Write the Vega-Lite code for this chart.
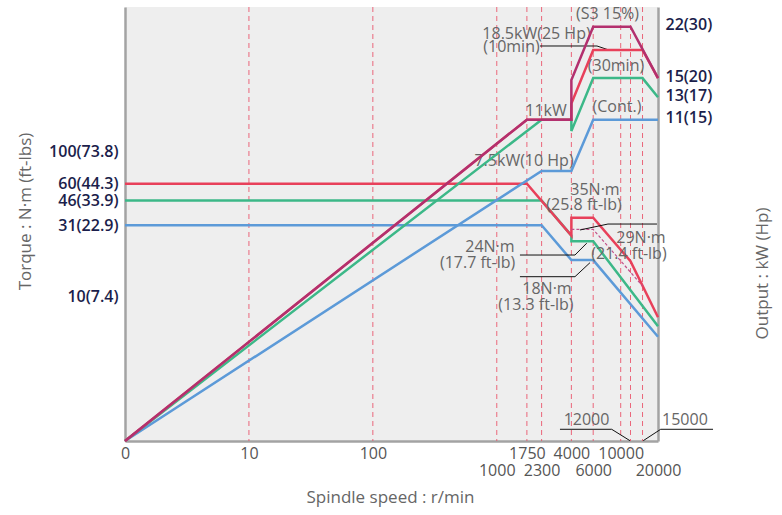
{
  "$schema": "https://vega.github.io/schema/vega-lite/v6.json",
  "width": 533,
  "height": 434,
  "autosize": {"type": "none"},
  "padding": {"left": 125, "top": 7, "right": 124, "bottom": 74},
  "background": "white",
  "config": {
    "view": {"fill": "#eeeeee", "stroke": null},
    "font": "Open Sans",
    "axis": {"domainColor": "#a3a3a3", "domainWidth": 2.5, "ticks": false, "grid": false, "labelFont": "Open Sans", "titleFont": "Open Sans", "titleFontWeight": "normal", "titleColor": "#666666", "titleFontSize": 17},
    "text": {"font": "Open Sans"}
  },
  "datasets": {
    "grid": [{"rpm": 10}, {"rpm": 100}, {"rpm": 1000}, {"rpm": 1750}, {"rpm": 2300}, {"rpm": 4000}, {"rpm": 6000}, {"rpm": 10000}, {"rpm": 12000}, {"rpm": 15000}],
    "torque": [
      {"series": "S3", "seq": 1, "rpm": 1, "nm": 60},
      {"series": "S3", "seq": 2, "rpm": 1750, "nm": 60},
      {"series": "S3", "seq": 3, "rpm": 4000, "nm": 26.3},
      {"series": "S3", "seq": 4, "rpm": 4000, "nm": 35},
      {"series": "S3", "seq": 5, "rpm": 6000, "nm": 35},
      {"series": "S3", "seq": 6, "rpm": 12000, "nm": 17.5},
      {"series": "S3", "seq": 7, "rpm": 20000, "nm": 7.16},
      {"series": "30min", "seq": 1, "rpm": 1, "nm": 46},
      {"series": "30min", "seq": 2, "rpm": 2300, "nm": 46},
      {"series": "30min", "seq": 3, "rpm": 4000, "nm": 26.3},
      {"series": "30min", "seq": 4, "rpm": 4000, "nm": 24},
      {"series": "30min", "seq": 5, "rpm": 6000, "nm": 24},
      {"series": "30min", "seq": 6, "rpm": 20000, "nm": 6.2},
      {"series": "Cont", "seq": 1, "rpm": 1, "nm": 31},
      {"series": "Cont", "seq": 2, "rpm": 2300, "nm": 31},
      {"series": "Cont", "seq": 3, "rpm": 4000, "nm": 17.8},
      {"series": "Cont", "seq": 4, "rpm": 6000, "nm": 17.8},
      {"series": "Cont", "seq": 5, "rpm": 20000, "nm": 5.25},
      {"series": "10min", "seq": 1, "rpm": 4000, "nm": 29},
      {"series": "10min", "seq": 2, "rpm": 6000, "nm": 29},
      {"series": "10min", "seq": 3, "rpm": 15000, "nm": 11.8}
    ],
    "power": [
      {"series": "S3", "seq": 1, "rpm": 1, "kw": 1},
      {"series": "S3", "seq": 2, "rpm": 1750, "kw": 11},
      {"series": "S3", "seq": 3, "rpm": 4000, "kw": 11},
      {"series": "S3", "seq": 4, "rpm": 4000, "kw": 14.8},
      {"series": "S3", "seq": 5, "rpm": 6000, "kw": 22},
      {"series": "S3", "seq": 6, "rpm": 12000, "kw": 22},
      {"series": "S3", "seq": 7, "rpm": 20000, "kw": 15},
      {"series": "10min", "seq": 1, "rpm": 1, "kw": 1},
      {"series": "10min", "seq": 2, "rpm": 1750, "kw": 11},
      {"series": "10min", "seq": 3, "rpm": 4000, "kw": 11},
      {"series": "10min", "seq": 4, "rpm": 4000, "kw": 12.4},
      {"series": "10min", "seq": 5, "rpm": 6000, "kw": 18.5},
      {"series": "10min", "seq": 6, "rpm": 15000, "kw": 18.5},
      {"series": "10min", "seq": 7, "rpm": 20000, "kw": 15},
      {"series": "30min", "seq": 1, "rpm": 1, "kw": 1},
      {"series": "30min", "seq": 2, "rpm": 2300, "kw": 11},
      {"series": "30min", "seq": 3, "rpm": 4000, "kw": 11},
      {"series": "30min", "seq": 4, "rpm": 4000, "kw": 10.1},
      {"series": "30min", "seq": 5, "rpm": 6000, "kw": 15},
      {"series": "30min", "seq": 6, "rpm": 15000, "kw": 15},
      {"series": "30min", "seq": 7, "rpm": 20000, "kw": 13},
      {"series": "Cont", "seq": 1, "rpm": 1, "kw": 1},
      {"series": "Cont", "seq": 2, "rpm": 2300, "kw": 7.5},
      {"series": "Cont", "seq": 3, "rpm": 4000, "kw": 7.5},
      {"series": "Cont", "seq": 4, "rpm": 6000, "kw": 11},
      {"series": "Cont", "seq": 5, "rpm": 20000, "kw": 11}
    ],
    "notes": [
      {"label": "(S3 15%)", "rpm": 7820, "nm": 895},
      {"label": "18.5kW(25 Hp)", "rpm": 2092, "nm": 650},
      {"label": "(10min)", "rpm": 1314, "nm": 529},
      {"label": "(30min)", "rpm": 9160, "nm": 391},
      {"label": "(Cont.)", "rpm": 9330, "nm": 204},
      {"label": "11kW", "rpm": 2495, "nm": 190},
      {"label": "7.5kW(10 Hp)", "rpm": 1660, "nm": 86},
      {"label": "35N·m", "rpm": 6200, "nm": 54.3},
      {"label": "(25.8 ft-lb)", "rpm": 5058, "nm": 43.1},
      {"label": "24N·m", "rpm": 881, "nm": 21.9},
      {"label": "(17.7 ft-lb)", "rpm": 700, "nm": 17.0},
      {"label": "18N·m", "rpm": 2541, "nm": 11.2},
      {"label": "(13.3 ft-lb)", "rpm": 2070, "nm": 8.7},
      {"label": "29N·m", "rpm": 14580, "nm": 25.3},
      {"label": "(21.4 ft-lb)", "rpm": 11660, "nm": 19.5},
      {"label": "12000", "rpm": 5300, "nm": 1.4},
      {"label": "15000", "rpm": 33000, "nm": 1.4}
    ],
    "leaders": [
      {"id": "a", "seq": 1, "rpm": 2232, "nm": 537.6},
      {"id": "a", "seq": 2, "rpm": 6438, "nm": 537.6},
      {"id": "a", "seq": 3, "rpm": 8040, "nm": 504},
      {"id": "b", "seq": 1, "rpm": 4690, "nm": 28.75},
      {"id": "b", "seq": 2, "rpm": 7890, "nm": 31.6},
      {"id": "b", "seq": 3, "rpm": 19630, "nm": 31.6},
      {"id": "c", "seq": 1, "rpm": 1538, "nm": 19.3},
      {"id": "c", "seq": 2, "rpm": 4276, "nm": 19.3},
      {"id": "c", "seq": 3, "rpm": 5320, "nm": 23.3},
      {"id": "d", "seq": 1, "rpm": 1538, "nm": 13.67},
      {"id": "d", "seq": 2, "rpm": 4276, "nm": 13.67},
      {"id": "d", "seq": 3, "rpm": 5650, "nm": 17.08},
      {"id": "e", "seq": 1, "rpm": 3236, "nm": 1.205},
      {"id": "e", "seq": 2, "rpm": 8460, "nm": 1.205},
      {"id": "e", "seq": 3, "rpm": 11880, "nm": 1.005},
      {"id": "f", "seq": 1, "rpm": 55600, "nm": 1.205},
      {"id": "f", "seq": 2, "rpm": 21030, "nm": 1.205},
      {"id": "f", "seq": 3, "rpm": 15210, "nm": 1.005}
    ]
  },
  "layer": [
    {
      "data": {"name": "grid"},
      "mark": {"type": "rule", "color": "#ea4f66", "strokeDash": [5, 4], "strokeWidth": 1, "opacity": 0.85},
      "encoding": {
        "x": {
          "field": "rpm", "type": "quantitative",
          "scale": {"type": "log", "domain": [1, 20000], "nice": false},
          "axis": {
            "values": [1, 10, 100, 1000, 1750, 2300, 4000, 6000, 10000, 20000],
            "labelExpr": "datum.value == 1 ? '0' : format(datum.value, 'd')",
            "labelPadding": {"condition": {"test": "datum.value == 1000 || datum.value == 2300 || datum.value == 6000 || datum.value == 20000", "value": 21}, "value": 4},
            "labelOverlap": false, "labelFlush": false, "labelBound": false,
            "labelFontSize": 16, "labelColor": "#555555",
            "title": "Spindle speed : r/min", "titleX": 265, "titleY": 56, "titleBaseline": "middle", "titleAlign": "center"
          }
        }
      }
    },
    {
      "data": {"name": "torque"},
      "transform": [{"filter": "datum.series == '30min'"}],
      "mark": {"type": "line", "color": "#3cb888", "strokeWidth": 2.5},
      "encoding": {
        "x": {"field": "rpm", "type": "quantitative", "scale": {"type": "log", "domain": [1, 20000], "nice": false}},
        "y": {
          "field": "nm", "type": "quantitative",
          "scale": {"type": "log", "domain": [1, 1000], "nice": false},
          "axis": {
            "orient": "left",
            "values": [10, 31, 46, 60, 100],
            "labelExpr": "datum.value == 10 ? '10(7.4)' : datum.value == 31 ? '31(22.9)' : datum.value == 46 ? '46(33.9)' : datum.value == 60 ? '60(44.3)' : '100(73.8)'",
            "labelOverlap": false, "labelFontSize": 16, "labelFontWeight": 600, "labelColor": "#1b1e4b", "labelPadding": 7,
            "title": "Torque : N·m (ft-lbs)", "titleX": -100, "titleY": 204, "titleAngle": -90, "titleBaseline": "middle", "titleAlign": "center"
          }
        },
        "order": {"field": "seq", "type": "quantitative"}
      }
    },
    {
      "data": {"name": "torque"},
      "transform": [{"filter": "datum.series == 'Cont'"}],
      "mark": {"type": "line", "color": "#5c9ad8", "strokeWidth": 2.5},
      "encoding": {
        "x": {"field": "rpm", "type": "quantitative", "scale": {"type": "log", "domain": [1, 20000], "nice": false}},
        "y": {"field": "nm", "type": "quantitative", "scale": {"type": "log", "domain": [1, 1000], "nice": false}, "axis": null},
        "order": {"field": "seq", "type": "quantitative"}
      }
    },
    {
      "data": {"name": "torque"},
      "transform": [{"filter": "datum.series == 'S3'"}],
      "mark": {"type": "line", "color": "#e8405a", "strokeWidth": 2.5},
      "encoding": {
        "x": {"field": "rpm", "type": "quantitative", "scale": {"type": "log", "domain": [1, 20000], "nice": false}},
        "y": {"field": "nm", "type": "quantitative", "scale": {"type": "log", "domain": [1, 1000], "nice": false}, "axis": null},
        "order": {"field": "seq", "type": "quantitative"}
      }
    },
    {
      "data": {"name": "torque"},
      "transform": [{"filter": "datum.series == '10min'"}],
      "mark": {"type": "line", "color": "#c2508a", "strokeWidth": 1.2, "strokeDash": [3, 2]},
      "encoding": {
        "x": {"field": "rpm", "type": "quantitative", "scale": {"type": "log", "domain": [1, 20000], "nice": false}},
        "y": {"field": "nm", "type": "quantitative", "scale": {"type": "log", "domain": [1, 1000], "nice": false}, "axis": null},
        "order": {"field": "seq", "type": "quantitative"}
      }
    },
    {
      "data": {"name": "leaders"},
      "mark": {"type": "line", "color": "#111111", "strokeWidth": 1},
      "encoding": {
        "x": {"field": "rpm", "type": "quantitative", "scale": {"type": "log", "domain": [1, 20000], "nice": false}},
        "y": {"field": "nm", "type": "quantitative", "scale": {"type": "log", "domain": [1, 1000], "nice": false}, "axis": null},
        "detail": {"field": "id"},
        "order": {"field": "seq", "type": "quantitative"}
      }
    },
    {
      "data": {"name": "notes"},
      "mark": {"type": "text", "fontSize": 16, "color": "#666666", "align": "center", "baseline": "middle"},
      "encoding": {
        "x": {"field": "rpm", "type": "quantitative", "scale": {"type": "log", "domain": [1, 20000], "nice": false}},
        "y": {"field": "nm", "type": "quantitative", "scale": {"type": "log", "domain": [1, 1000], "nice": false}, "axis": null},
        "text": {"field": "label"}
      }
    },
    {
      "data": {"name": "power"},
      "transform": [{"filter": "datum.series == 'Cont'"}],
      "mark": {"type": "line", "color": "#5c9ad8", "strokeWidth": 2.5},
      "encoding": {
        "x": {"field": "rpm", "type": "quantitative", "scale": {"type": "log", "domain": [1, 20000], "nice": false}},
        "y": {
          "field": "kw", "type": "quantitative",
          "scale": {"type": "log", "domain": [1, 25.5], "nice": false},
          "axis": {
            "orient": "right",
            "values": [11, 13, 15, 22],
            "labelExpr": "datum.value == 11 ? '11(15)' : datum.value == 13 ? '13(17)' : datum.value == 15 ? '15(20)' : '22(30)'",
            "labelOverlap": false, "labelFontSize": 16, "labelFontWeight": 600, "labelColor": "#1b1e4b", "labelPadding": 7, "labelOffset": -2,
            "title": "Output : kW (Hp)", "titleX": 104, "titleY": 266, "titleAngle": 270, "titleBaseline": "middle", "titleAlign": "center"
          }
        },
        "order": {"field": "seq", "type": "quantitative"}
      }
    },
    {
      "data": {"name": "power"},
      "transform": [{"filter": "datum.series == '30min'"}],
      "mark": {"type": "line", "color": "#3cb888", "strokeWidth": 2.5},
      "encoding": {
        "x": {"field": "rpm", "type": "quantitative", "scale": {"type": "log", "domain": [1, 20000], "nice": false}},
        "y": {"field": "kw", "type": "quantitative", "scale": {"type": "log", "domain": [1, 25.5], "nice": false}, "axis": null},
        "order": {"field": "seq", "type": "quantitative"}
      }
    },
    {
      "data": {"name": "power"},
      "transform": [{"filter": "datum.series == '10min'"}],
      "mark": {"type": "line", "color": "#e8405a", "strokeWidth": 2.5},
      "encoding": {
        "x": {"field": "rpm", "type": "quantitative", "scale": {"type": "log", "domain": [1, 20000], "nice": false}},
        "y": {"field": "kw", "type": "quantitative", "scale": {"type": "log", "domain": [1, 25.5], "nice": false}, "axis": null},
        "order": {"field": "seq", "type": "quantitative"}
      }
    },
    {
      "data": {"name": "power"},
      "transform": [{"filter": "datum.series == 'S3'"}],
      "mark": {"type": "line", "color": "#b3306e", "strokeWidth": 2.5},
      "encoding": {
        "x": {"field": "rpm", "type": "quantitative", "scale": {"type": "log", "domain": [1, 20000], "nice": false}},
        "y": {"field": "kw", "type": "quantitative", "scale": {"type": "log", "domain": [1, 25.5], "nice": false}, "axis": null},
        "order": {"field": "seq", "type": "quantitative"}
      }
    }
  ],
  "resolve": {"scale": {"y": "independent"}}
}
